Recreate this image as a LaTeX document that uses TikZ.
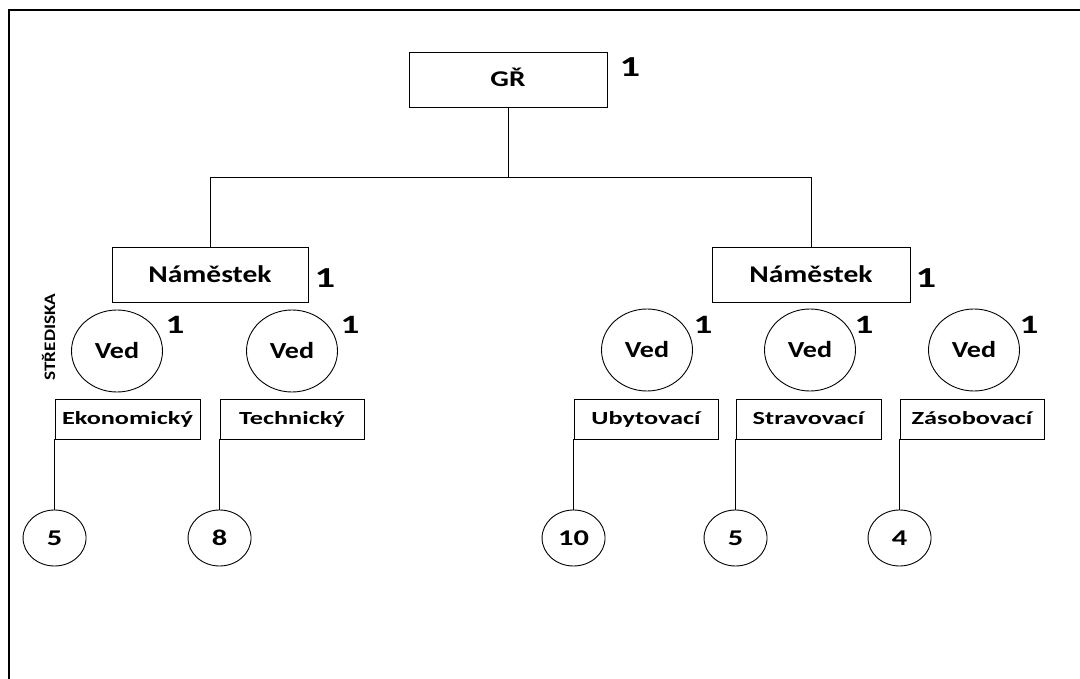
\documentclass[tikz,border=0pt]{standalone}
\usepackage{fontspec}
\setmainfont{Carlito}
\usepackage{graphicx}
\usetikzlibrary{shapes.geometric}
\newcommand{\wx}[2]{\scalebox{#1}[1]{#2}}
\begin{document}
\begin{tikzpicture}[x=1pt,y=-1pt,
  line width=0.9pt,
  box/.style={draw, rectangle, inner sep=0pt, text height=15.5pt, text depth=0pt, font=\bfseries\fontsize{24}{26}\selectfont},
  lbl/.style={draw, rectangle, inner sep=0pt, text height=11.9pt, text depth=0pt, minimum width=145pt, minimum height=40pt, font=\bfseries\fontsize{18.5}{20}\selectfont},
  ved/.style={draw, ellipse, inner sep=0pt, text height=14.8pt, text depth=0pt, minimum width=91pt, minimum height=82pt, font=\bfseries\fontsize{23}{25}\selectfont},
  cnt/.style={draw, ellipse, inner sep=0pt, text height=14.3pt, text depth=0pt, minimum width=63pt, minimum height=56pt, font=\bfseries\fontsize{22.5}{24}\selectfont},
  one/.style={text height=18.5pt, text depth=0pt, font=\bfseries\fontsize{29}{30}\selectfont, inner sep=0pt},
  onev/.style={text height=16.8pt, text depth=0pt, font=\bfseries\fontsize{26.5}{28}\selectfont, inner sep=0pt}
]
\useasboundingbox (0,0) rectangle (1080,679);
\draw[line width=1.4pt] (9,679) -- (9,10) -- (1080,10);

\node[box, text height=14.5pt, font=\bfseries\fontsize{22.5}{24}\selectfont, minimum width=198pt, minimum height=55pt] (gr) at (508,79.5) {\wx{1.3}{GŘ}};
\node[one] (gr1) at (630,67) {\wx{1.4}{1}};

\node[box, minimum width=196pt, minimum height=55pt] (n1) at (210,274.5) {\wx{1.23}{Náměstek}};
\node[one] (n1one) at (325,278) {\wx{1.4}{1}};
\node[box, minimum width=198pt, minimum height=55pt] (n2) at (811,274.5) {\wx{1.23}{Náměstek}};
\node[one] (n2one) at (926,278) {\wx{1.4}{1}};

\coordinate (hub) at (508,177);
\draw (gr.south) -- (hub);
\draw (hub) -| (n1.north);
\draw (hub) -| (n2.north);

\node[ved] (v1) at (117,351) {\wx{1.22}{Ved}};
\node[ved] (v2) at (292,351) {\wx{1.22}{Ved}};
\node[ved] (v3) at (647,350) {\wx{1.22}{Ved}};
\node[ved] (v4) at (810,350) {\wx{1.22}{Ved}};
\node[ved] (v5) at (974,350) {\wx{1.22}{Ved}};
\node[onev] (o1) at (175,325) {\wx{1.4}{1}};
\node[onev] (o2) at (350,325) {\wx{1.4}{1}};
\node[onev] (o3) at (703,325) {\wx{1.4}{1}};
\node[onev] (o4) at (864,325) {\wx{1.4}{1}};
\node[onev] (o5) at (1029,325) {\wx{1.4}{1}};

\node[text height=10.3pt, text depth=0pt, font=\bfseries\fontsize{16}{17}\selectfont, rotate=90, inner sep=0pt] (stred) at (50,337) {\wx{1.2}{STŘEDISKA}};

\node[lbl, minimum width=145pt] (l1) at (127.5,419) {\wx{1.42}{Ekonomický}};
\node[lbl, minimum width=144pt] (l2) at (292,419) {\wx{1.42}{Technický}};
\node[lbl, minimum width=144pt] (l3) at (646,419) {\wx{1.42}{Ubytovací}};
\node[lbl, minimum width=145pt] (l4) at (808.5,419) {\wx{1.42}{Stravovací}};
\node[lbl, minimum width=144pt] (l5) at (972,419) {\wx{1.42}{Zásobovací}};

\node[cnt] (c1) at (l1.south west |- 0,538) {\wx{1.35}{5}};
\node[cnt] (c2) at (l2.south west |- 0,538) {\wx{1.35}{8}};
\node[cnt] (c3) at (l3.south west |- 0,538) {\wx{1.35}{10}};
\node[cnt] (c4) at (l4.south west |- 0,538) {\wx{1.35}{5}};
\node[cnt] (c5) at (l5.south west |- 0,538) {\wx{1.35}{4}};

\draw (l1.south west) -- (c1.north);
\draw (l2.south west) -- (c2.north);
\draw (l3.south west) -- (c3.north);
\draw (l4.south west) -- (c4.north);
\draw (l5.south west) -- (c5.north);
\end{tikzpicture}
\end{document}
